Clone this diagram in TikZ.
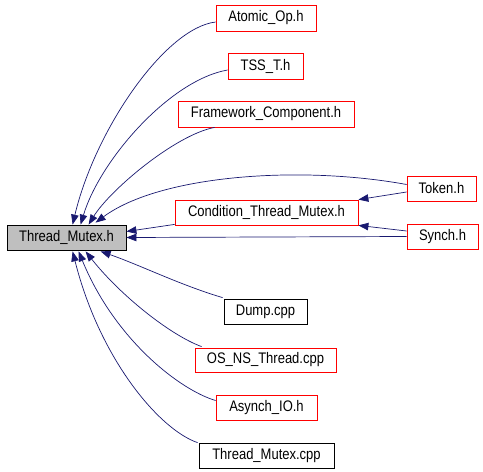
\documentclass[tikz,border=0pt]{standalone}
\usepackage{fontspec}
\setmainfont{Liberation Sans}[FakeStretch=0.85]
\usetikzlibrary{arrows.meta,calc}
\definecolor{edgeblue}{RGB}{25,25,112}
\definecolor{boxgray}{RGB}{191,191,191}
\begin{document}
\begin{tikzpicture}[x=1pt,y=-1pt,
  box/.style={draw,line width=0.8pt,minimum height=25pt,inner sep=0pt,font=\fontsize{15.3}{17}\selectfont},
  redbox/.style={box,draw=red},
  blackbox/.style={box,draw=black},
  mainbox/.style={box,draw=black,fill=boxgray},
  dep/.style={draw=edgeblue,line width=0.7pt,-{Triangle[length=10pt,width=7.5pt]}}
]
\useasboundingbox (0,0) rectangle (483,472);
\node[mainbox,minimum width=119pt] (tm) at (66.5,237.5) {Thread\_Mutex.h};
\node[redbox,minimum width=100pt,minimum height=26pt] (atomic) at (266,18) {Atomic\_Op.h};
\node[redbox,minimum width=75pt,minimum height=26pt] (tss) at (265.5,66) {TSS\_T.h};
\node[redbox,minimum width=176pt,minimum height=26pt] (fw) at (266,114) {Framework\_Component.h};
\node[redbox,minimum width=69pt] (token) at (441.5,188.5) {Token.h};
\node[redbox,minimum width=183pt] (cond) at (266.5,212.5) {Condition\_Thread\_Mutex.h};
\node[redbox,minimum width=71pt] (synch) at (442.5,236.5) {Synch.h};
\node[blackbox,minimum width=83pt] (dump) at (265.5,311.5) {Dump.cpp};
\node[redbox,minimum width=141pt,minimum height=24pt] (osns) at (265.5,360) {OS\_NS\_Thread.cpp};
\node[redbox,minimum width=101pt] (asynch) at (266.5,407.5) {Asynch\_IO.h};
\node[blackbox,minimum width=135pt] (tmcpp) at (266.5,455.5) {Thread\_Mutex.cpp};

% upper edges
\draw[dep] ($(atomic.west)+(0,4)$) .. controls (165,28) and (95,130) .. ($(tm.north west)+(66,0)$);
\draw[dep] ($(tss.west)+(0,4)$) .. controls (170,80) and (100,160) .. ($(tm.north west)+(74,0)$);
\draw[dep] ($(fw.south west)+(37,0)$) .. controls (175,135) and (110,190) .. ($(tm.north west)+(82,0)$);
\draw[dep] ($(token.west)+(0,-4)$) .. controls (300,165) and (160,175) .. ($(tm.north west)+(89,-2)$);
\draw[dep] ($(cond.south west)+(0,-1)$) -- ($(tm.east)+(0,-6)$);
\draw[dep] (synch.west) -- (tm.east);
\draw[dep] ($(token.west)+(0,3.5)$) -- (cond.north east);
\draw[dep] ($(synch.west)+(0,-5.5)$) -- (cond.south east);
% lower edges
\draw[dep] ($(dump.north west)+(-1,-1)$) .. controls (180,285) and (140,265) .. ($(tm.south west)+(94,1)$);
\draw[dep] ($(osns.north west)+(7,-1)$) .. controls (170,335) and (120,295) .. ($(tm.south west)+(79,1)$);
\draw[dep] ($(asynch.west)+(0,-7)$) .. controls (180,390) and (115,340) .. ($(tm.south west)+(72,1)$);
\draw[dep] ($(tmcpp.north west)+(-1,0)$) .. controls (160,430) and (100,360) .. ($(tm.south west)+(66,1)$);
\end{tikzpicture}
\end{document}
